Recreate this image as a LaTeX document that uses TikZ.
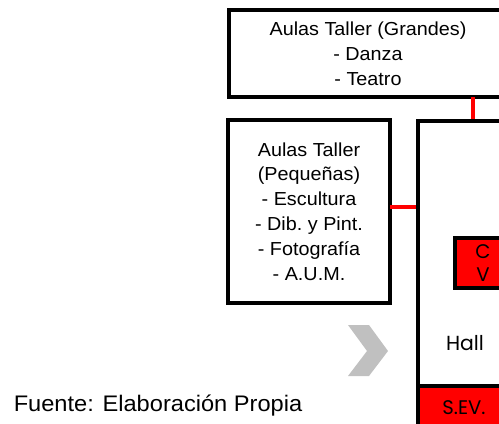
\documentclass[tikz,border=0pt]{standalone}
\usepackage{fontspec}
\setmainfont[FakeStretch=1.05]{Liberation Sans}
\newfontfamily\gotfont{Poppins}
\usetikzlibrary{positioning}

\definecolor{pfeilgrau}{RGB}{192,192,192}

\tikzset{
  aula/.style={rectangle, draw, line width=2.6pt, fill=white, align=center, inner sep=0pt,
    font=\fontsize{13.4}{17.7}\selectfont},
  bau/.style={rectangle, draw, line width=2.6pt, fill=white, inner sep=0pt},
  rot/.style={rectangle, draw, line width=2.6pt, fill=red, inner sep=0pt, align=center,
    font=\gotfont\fontsize{14}{16.5}\selectfont},
  conector/.style={draw=red, line width=2.8pt},
}

\begin{document}
\begin{tikzpicture}[x=0.025cm, y=-0.025cm]
  \useasboundingbox (0,0) rectangle (499,423);
  \clip (0,0) rectangle (499,423);

  % Gebaeude (rechts, angeschnitten)
  \node[bau, minimum width=3.55cm, minimum height=8.475cm] (edificio) at (489,290.5) {};
  \node[rot, minimum width=3.55cm, minimum height=1.85cm] (sevband) at (489,423) {};
  \node[font=\gotfont\fontsize{14}{16}\selectfont] (sev) at (464,408) {S.EV.};
  \node[rot, minimum width=1.4cm, minimum height=1.25cm] (cv) at (483,263) {C\\V};
  \node[font=\gotfont\fontsize{14.5}{16}\selectfont] (hall) at (465,343) {Hall};

  % Aulas
  \node[aula, minimum width=6.95cm, minimum height=2.175cm] (grandes) at (368,53.5)
    {Aulas Taller\ (Grandes)\\- Danza\\- Teatro};
  \node[aula, minimum width=4.05cm, minimum height=4.575cm] (pequenas) at (309,211.5)
    {Aulas Taller\\(Pequeñas)\\- Escultura\\- Dib.\ y Pint.\\- Fotografía\\- A.U.M.};

  % Verbindungen
  \coordinate (bajada) at (473,97);
  \coordinate (lado) at (390,207);
  \draw[conector] (bajada) -- (bajada |- edificio.north);
  \draw[conector] (lado) -- (lado -| edificio.west);

  % Pfeil
  \fill[pfeilgrau] (348,325) -- (369,325) -- (388,351) -- (369,376) -- (348,376) -- (367,351) -- cycle;

  % Quelle
  \node[font=\fontsize{16}{18}\selectfont] (fuente) at (158,406) {Fuente: Elaboración Propia};
\end{tikzpicture}
\end{document}
